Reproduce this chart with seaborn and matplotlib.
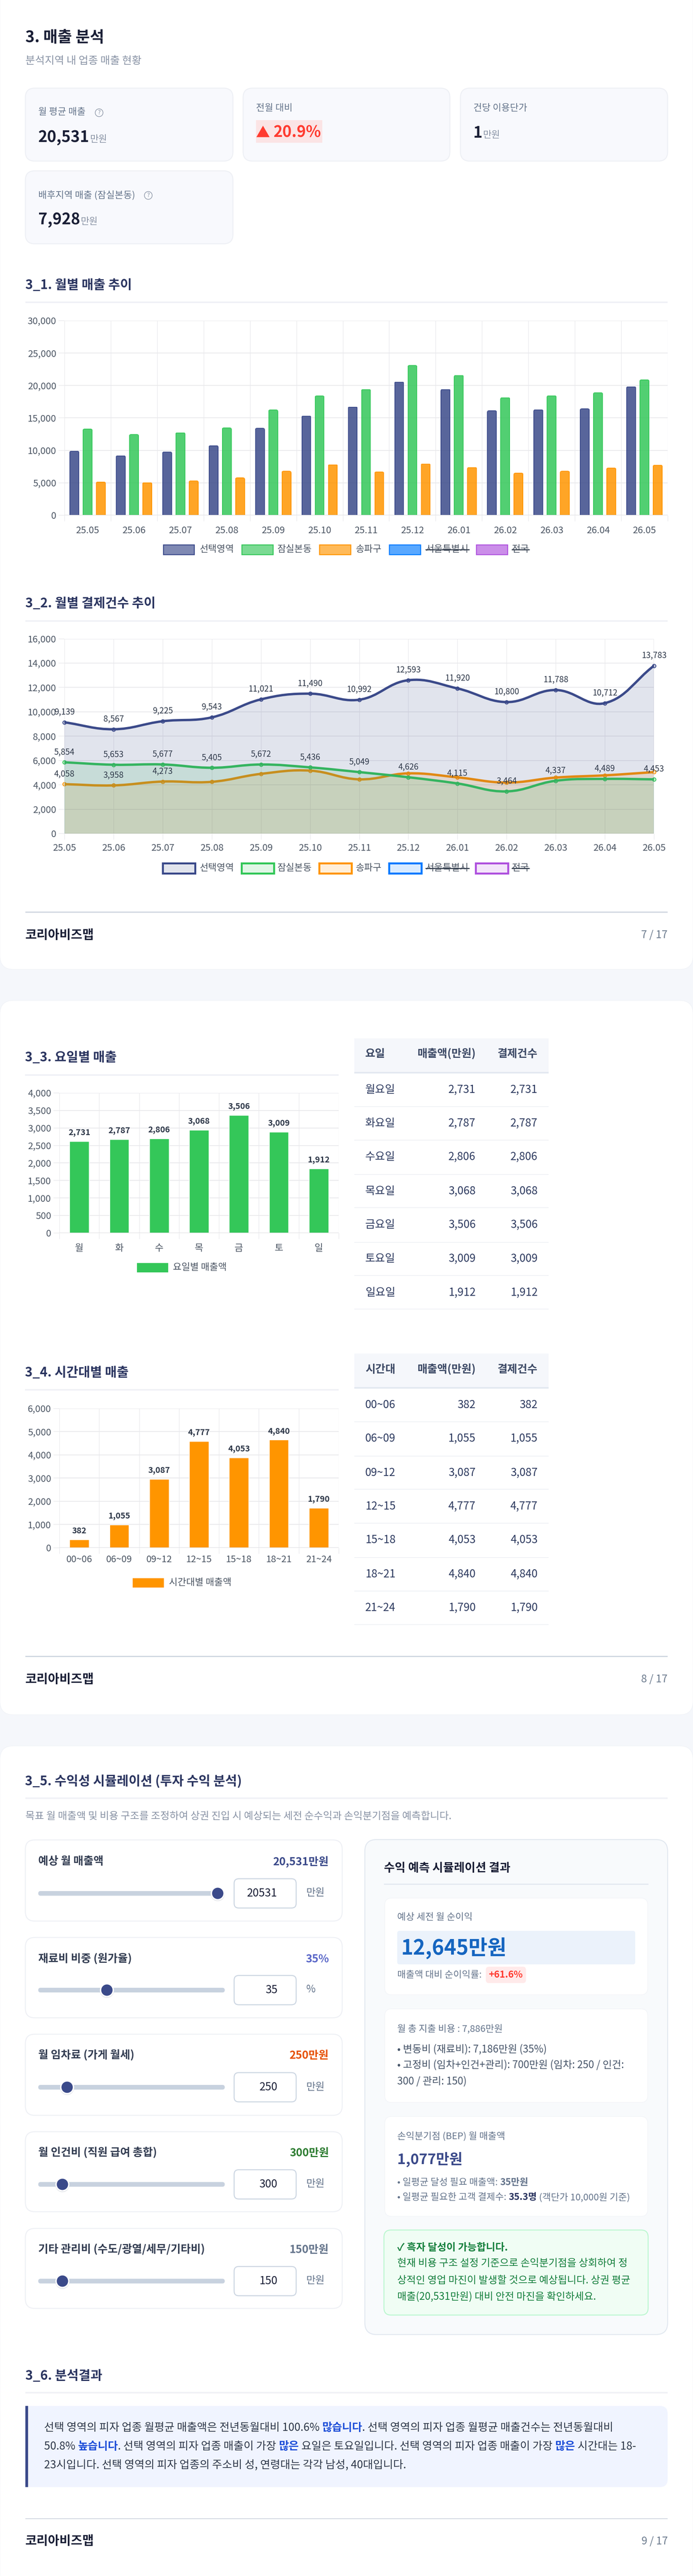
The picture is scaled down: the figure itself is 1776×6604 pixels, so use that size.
import numpy as np
import pandas as pd
import matplotlib
matplotlib.use('Agg')
import matplotlib.pyplot as plt
import seaborn as sns
from matplotlib.patches import FancyBboxPatch, Rectangle, Circle, PathPatch
from matplotlib.path import Path

W, H = 1776, 6604

months = ['25.05', '25.06', '25.07', '25.08', '25.09', '25.10', '25.11', '25.12', '26.01', '26.02', '26.03', '26.04', '26.05']
series_names = ['선택영역', '잠실본동', '송파구']

# 3_1 월별 매출
sales_selected = [9854, 9154, 9737, 10700, 13382, 15277, 16676, 20525, 19388, 16093, 16239, 16385, 19796]
sales_jamsil = [13265, 12420, 12711, 13440, 16210, 18367, 19359, 23061, 21545, 18105, 18397, 18863, 20845]
sales_songpa = [5102, 5015, 5277, 5743, 6764, 7784, 6647, 7901, 7347, 6472, 6764, 7259, 7697]

# 3_2 월별 결제건수
pay_selected = [9139, 8567, 9225, 9543, 11021, 11490, 10992, 12593, 11920, 10800, 11788, 10712, 13783]
pay_jamsil = [5854, 5653, 5677, 5405, 5672, 5436, 5049, 4626, 4115, 3464, 4337, 4489, 4453]
pay_songpa = [4058, 3958, 4273, 4250, 4904, 5170, 4455, 4945, 4618, 4189, 4598, 4782, 5047]
songpa_labeled = 3

# 3_3 요일별 (막대 높이와 라벨 값이 그림에서 서로 다름)
weekdays = ['월', '화', '수', '목', '금', '토', '일']
weekday_rows = ['월요일', '화요일', '수요일', '목요일', '금요일', '토요일', '일요일']
day_labels = [2731, 2787, 2806, 3068, 3506, 3009, 1912]
day_bars = [2623, 2674, 2697, 2947, 3363, 2885, 1838]

# 3_4 시간대별
hours = ['00~06', '06~09', '09~12', '12~15', '15~18', '18~21', '21~24']
hour_labels = [382, 1055, 3087, 4777, 4053, 4840, 1790]
hour_bars = [353, 995, 2963, 4588, 3882, 4642, 1711]

NAVY = '#3b4a8a'
GREEN = '#34c759'
ORANGE = '#ff9500'
BLUE = '#007aff'
PURPLE = '#af52de'
DARK = '#1a1f36'
TITLE = '#2b3560'
GREY = '#64748b'
TICK = '#4b5563'
GRID = '#e9e9ec'

sns.set_theme(style='white')
plt.rcParams['font.family'] = ['Noto Sans CJK KR', 'DejaVu Sans']
plt.rcParams['axes.unicode_minus'] = False

fig = plt.figure(figsize=(W / 100, H / 100), dpi=100, facecolor='#f5f7fb')
bg = fig.add_axes([0, 0, 1, 1], zorder=0)
bg.set_xlim(0, W)
bg.set_ylim(H, 0)
bg.axis('off')


def pt(px):
    return px * 0.72


def txt(x, y, s, size, color=DARK, weight='normal', ha='left', ax=bg, **kw):
    return ax.text(x, y, s, fontsize=pt(size), color=color, fontweight=weight, ha=ha, va='center', **kw)


def box(x0, y0, x1, y1, fc='white', ec='none', lw=0, r=0, z=1):
    p = FancyBboxPatch((x0, y0), x1 - x0, y1 - y0, boxstyle='round,pad=0,rounding_size=%s' % r,
                       fc=fc, ec=ec, lw=lw * 0.72, zorder=z)
    bg.add_patch(p)
    return p


def rule(y, x0=65, x1=1711, color='#f0f1f6', h=4):
    bg.add_patch(Rectangle((x0, y - h / 2), x1 - x0, h, fc=color, ec='none', zorder=2))


renderer = fig.canvas.get_renderer()


def text_width(s, size, weight):
    a = bg.text(0, 0, s + '.', fontsize=pt(size), fontweight=weight)
    b = bg.text(0, 0, '.', fontsize=pt(size), fontweight=weight)
    w = a.get_window_extent(renderer).width - b.get_window_extent(renderer).width
    a.remove()
    b.remove()
    return w


def runs(x, base, parts):
    # parts: (문자열, 크기, 색, 굵기)
    for s, size, color, weight in parts:
        bg.text(x, base, s, fontsize=pt(size), color=color, fontweight=weight, ha='left', va='baseline', zorder=5)
        x += text_width(s, size, weight)
    return x


def chart_axes(x0, y0, x1, y1):
    ax = fig.add_axes([x0 / W, 1 - y1 / H, (x1 - x0) / W, (y1 - y0) / H], zorder=3)
    ax.patch.set_alpha(0)
    for s in ax.spines.values():
        s.set_visible(False)
    return ax


def style_axis(ax, yticks, ylim, size=24, xsize=24, xpad=10):
    ax.set_ylim(*ylim)
    ax.set_yticks(yticks)
    ax.set_yticklabels(['{:,}'.format(v) for v in yticks], fontsize=pt(size), color=TICK)
    ax.set_xlabel('')
    ax.set_ylabel('')
    ax.set_axisbelow(True)
    ax.grid(True, axis='y', color=GRID, lw=1.5)
    ax.tick_params(axis='y', length=11, width=1.1, color=GRID, pad=4, left=True)
    ax.tick_params(axis='x', labelsize=pt(xsize), labelcolor=TICK, pad=xpad)
    ax.axhline(0, color='#d9d9dc', lw=2, zorder=1.5)


def category_grid(ax, n):
    ax.set_xlim(-0.5, n - 0.5)
    ax.set_xticks(np.arange(n + 1) - 0.5, minor=True)
    ax.tick_params(axis='x', which='major', length=0)
    ax.tick_params(axis='x', which='minor', length=11, width=1, color=GRID, bottom=True)
    ax.grid(True, axis='x', which='minor', color=GRID, lw=1)
    ax.grid(False, axis='x', which='major')


def round_bar_tops(ax, r=6):
    # 막대 윗모서리만 둥글게 (아래쪽은 클립 영역을 기준선 밑으로 내림)
    fig.canvas.draw()
    to_px = ax.transData + bg.transData.inverted()
    for bar in ax.patches:
        (x0, y1), (x1, y0) = to_px.transform([(bar.get_x(), 0), (bar.get_x() + bar.get_width(), bar.get_height())])
        clip = FancyBboxPatch((x0 - 1.5, y0 - 1.5), x1 - x0 + 3, y1 - y0 + 20,
                              boxstyle='round,pad=0,rounding_size=%s' % r, transform=bg.transData)
        bar.set_clip_path(clip)


def legend_row(y, h, entries, fill_alpha, lw):
    for x0, x1, tx, label, color, hidden in entries:
        fc = matplotlib.colors.to_rgba(color, fill_alpha)
        bg.add_patch(Rectangle((x0, y - h / 2), x1 - x0, h, fc=fc, ec=color, lw=lw * 0.72, zorder=2))
        t = txt(tx, y - 1, label, 24, color=TICK)
        if hidden:
            w = text_width(label, 24, 'normal')
            bg.plot([tx, tx + w], [y, y], color='#374151', lw=2, zorder=6)


def footer(y_rule, y_text, page):
    rule(y_rule, color='#cfd6e0', h=2.5)
    txt(65, y_text, '코리아비즈맵', 32, weight='bold')
    txt(1711, y_text, page, 27, color='#6b7a8d', ha='right')


def help_icon(x, y):
    bg.add_patch(Circle((x, y), 10, fc='none', ec='#8a94a6', lw=1.1, zorder=4))
    txt(x, y, '?', 15, color='#8a94a6', ha='center', zorder=5)


# 페이지 배경
for y0, y1 in [(-40, 2485), (2565, 4396), (4476, 6644)]:
    box(0, y0, W, y1, fc='white', ec='#eef0f5', lw=1, r=34, z=0.5)

# ---- 7쪽
txt(65, 97, '3. 매출 분석', 40, weight='bold')
txt(65, 156, '분석지역 내 업종 매출 현황', 27, color='#8a94a6')

for x0, y0, x1, y1 in [(65, 226, 597, 413), (623, 226, 1153, 413), (1180, 226, 1711, 413), (65, 438, 597, 625)]:
    box(x0, y0, x1, y1, fc='#f8f9fd', ec='#eef0f5', lw=2.5, r=24)

txt(98, 288, '월 평균 매출', 24, color=GREY)
help_icon(254, 289)
x = runs(98, 364, [('20,531', 40, DARK, 'bold'), (' ', 8, DARK, 'normal'), ('만원', 24, '#8a94a6', 'normal')])

txt(656, 278, '전월 대비', 24, color=GREY)
box(656, 308, 826, 366, fc='#fbe4e5')
runs(656, 352, [('▲ ', 36, '#ff3b30', 'bold'), ('20.9%', 40, '#ff3b30', 'bold')])

txt(1213, 278, '건당 이용단가', 24, color=GREY)
runs(1213, 353, [('1', 40, DARK, 'bold'), (' ', 8, DARK, 'normal'), ('만원', 24, '#8a94a6', 'normal')])

txt(98, 500, '배후지역 매출 (잠실본동)', 24, color=GREY)
help_icon(380, 501)
runs(98, 575, [('7,928', 40, DARK, 'bold'), (' ', 8, DARK, 'normal'), ('만원', 24, '#8a94a6', 'normal')])

# 3_1
txt(65, 732, '3_1. 월별 매출 추이', 33, color=TITLE, weight='bold')
rule(775.5)
ax = chart_axes(165, 822, 1711, 1321)
df_sales = pd.DataFrame({'month': months * 3,
                         'value': sales_selected + sales_jamsil + sales_songpa,
                         'series': np.repeat(series_names, 13)})
sns.barplot(data=df_sales, x='month', y='value', hue='series', order=months, hue_order=series_names,
            palette=[NAVY, GREEN, ORANGE], width=0.857, gap=0.33, legend=False, ax=ax, saturation=1)
for bar in ax.patches:
    c = bar.get_facecolor()
    bar.set_facecolor((c[0], c[1], c[2], 0.85))
    bar.set_edgecolor((c[0], c[1], c[2], 1))
    bar.set_linewidth(1.4)
style_axis(ax, list(range(0, 30001, 5000)), (0, 30000), xpad=20)
category_grid(ax, 13)
round_bar_tops(ax)

legend_items = [(419, 498, 512, '선택영역', NAVY, False), (620, 700, 711, '잠실본동', GREEN, False),
                (819, 899, 912, '송파구', ORANGE, False), (998, 1078, 1091, '서울특별시', BLUE, True),
                (1221, 1301, 1312, '전국', PURPLE, True)]
legend_row(1409.5, 25, legend_items, 0.65, 2.5)

# 3_2
txt(65, 1548, '3_2. 월별 결제건수 추이', 33, color=TITLE, weight='bold')
rule(1592)
ax = chart_axes(165, 1637.5, 1676, 2137)
px_x, px_y = (1676 - 165) / 12, (2137 - 1637.5) / 16000


def curve_verts(values, tension=0.4):
    # Chart.js 와 같은 베지어 곡선 제어점
    p = np.column_stack([np.arange(len(values)) * px_x, np.array(values, dtype=float) * px_y])
    verts, codes = [p[0]], [Path.MOVETO]
    for i in range(len(p) - 1):
        prev_pt = p[i - 1] if i > 0 else p[i]
        after = p[i + 2] if i + 2 < len(p) else p[i + 1]
        d0, d1, d2 = [np.hypot(*v) for v in (p[i] - prev_pt, p[i + 1] - p[i], after - p[i + 1])]
        c1 = p[i] + tension * d1 / (d0 + d1) * (p[i + 1] - prev_pt)
        c2 = p[i + 1] - tension * d1 / (d1 + d2) * (after - p[i])
        verts += [c1, c2, p[i + 1]]
        codes += [Path.CURVE4] * 3
    verts = np.array(verts) / [px_x, px_y]
    return verts, codes


pay_series = [(pay_songpa, ORANGE, 2.0), (pay_jamsil, GREEN, 3.0), (pay_selected, NAVY, 4.0)]
for values, color, z in pay_series:
    verts, codes = curve_verts(values)
    fill_v = np.vstack([verts, [[12, 0], [0, 0], [0, 0]]])
    fill_c = codes + [Path.LINETO, Path.LINETO, Path.CLOSEPOLY]
    ax.add_patch(PathPatch(Path(fill_v, fill_c), fc=matplotlib.colors.to_rgba(color, 0.15), ec='none', zorder=z))
    ax.add_patch(PathPatch(Path(verts, codes), fc='none', ec=color, lw=4.4, capstyle='round', joinstyle='round', zorder=z))
    sns.lineplot(x=list(range(13)), y=values, ax=ax, linewidth=0, marker='o', markersize=6.5,
                 markerfacecolor=matplotlib.colors.to_rgba(color, 0.3), markeredgecolor=color,
                 markeredgewidth=1.4, estimator=None, errorbar=None, zorder=z, clip_on=False)

ax.set_xlim(0, 12)
ax.set_xticks(range(13))
ax.set_xticklabels(months)
style_axis(ax, list(range(0, 16001, 2000)), (0, 16000), xpad=8)
ax.grid(True, axis='x', color=GRID, lw=1)
ax.tick_params(axis='x', length=11, width=1, color=GRID, bottom=True)
ax.axvline(12, color=GRID, lw=1.4)
ax.axvline(0, color=GRID, lw=1.4)

for values, n in [(pay_selected, 13), (pay_jamsil, 13), (pay_songpa, songpa_labeled)]:
    for i in range(n):
        ax.annotate('{:,}'.format(values[i]), (i, values[i]), xytext=(0, 18.5), textcoords='offset points',
                    ha='center', va='center', fontsize=pt(21), color='#2d3748', fontweight='medium', zorder=8)

legend_items = [(417, 500, 512, '선택영역', NAVY, False), (619, 702, 711, '잠실본동', GREEN, False),
                (818, 901, 912, '송파구', ORANGE, False), (997, 1080, 1091, '서울특별시', BLUE, True),
                (1219, 1302, 1312, '전국', PURPLE, True)]
legend_row(2226, 26, legend_items, 0.15, 5)
footer(2338.5, 2398, '7 / 17')

# ---- 8쪽
txt(64, 2712, '3_3. 요일별 매출', 33, color=TITLE, weight='bold')
rule(2756, 64, 868)
ax = chart_axes(152, 2802, 868, 3161)
sns.barplot(x=weekdays, y=day_bars, color=GREEN, width=0.485, saturation=1, ax=ax)
style_axis(ax, list(range(0, 4001, 500)), (0, 4000), xpad=20)
category_grid(ax, 7)
for i, v in enumerate(day_bars):
    ax.annotate('{:,}'.format(day_labels[i]), (i, v), xytext=(0, 16), textcoords='offset points', ha='center',
                va='center', fontsize=pt(21), fontweight='bold', color='#2d3748')
bg.add_patch(Rectangle((351, 3238), 80, 24, fc=GREEN, ec='none'))
txt(443, 3249, '요일별 매출액', 24, color=TICK)


def table(head, rows, vals, hy0, hy1, hy, row_y, lines):
    bg.add_patch(Rectangle((908, hy0), 498, hy1 - hy0, fc='#f5f7fb', ec='none', zorder=2))
    bg.add_patch(Rectangle((908, hy1 - 3.5), 498, 3.5, fc='#e2e8f0', ec='none', zorder=2))
    txt(936, hy, head, 28, color='#3d4a66', weight='bold', zorder=3)
    txt(1219, hy, '매출액(만원)', 28, color='#3d4a66', weight='bold', ha='right', zorder=3)
    txt(1378, hy, '결제건수', 28, color='#3d4a66', weight='bold', ha='right', zorder=3)
    for i, name in enumerate(rows):
        txt(936, row_y[i], name, 28, color='#2d3a5f')
        txt(1219, row_y[i], '{:,}'.format(vals[i]), 28, color='#2d3a5f', ha='right')
        txt(1378, row_y[i], '{:,}'.format(vals[i]), 28, color='#2d3a5f', ha='right')
        bg.add_patch(Rectangle((908, lines[i] - 1), 498, 2, fc='#eff1f5', ec='none', zorder=2))


table('요일', weekday_rows, day_labels, 2662, 2752, 2702,
      [2794, 2880, 2966, 3054, 3140, 3227, 3314], [2837, 2923, 3011, 3096, 3185, 3270, 3356])

txt(64, 3520, '3_4. 시간대별 매출', 33, color=TITLE, weight='bold')
rule(3563, 64, 868)
ax = chart_axes(152, 3610.6, 868, 3968)
sns.barplot(x=hours, y=hour_bars, color=ORANGE, width=0.485, saturation=1, ax=ax)
style_axis(ax, list(range(0, 6001, 1000)), (0, 6000), xpad=14)
category_grid(ax, 7)
for i, v in enumerate(hour_bars):
    ax.annotate('{:,}'.format(hour_labels[i]), (i, v), xytext=(0, 16), textcoords='offset points', ha='center',
                va='center', fontsize=pt(21), fontweight='bold', color='#2d3748')
bg.add_patch(Rectangle((340, 4046), 80, 24, fc=ORANGE, ec='none'))
txt(433, 4057, '시간대별 매출액', 24, color=TICK)

table('시간대', hours, hour_labels, 3470, 3560, 3511,
      [3602, 3688, 3776, 3862, 3948, 4036, 4122], [3645, 3733, 3818.5, 3905, 3993, 4079, 4165])
footer(4246.5, 4306, '8 / 17')

# ---- 9쪽
txt(64, 4566, '3_5. 수익성 시뮬레이션 (투자 수익 분석)', 33, color=TITLE, weight='bold')
rule(4610, 65, 1711)
txt(65, 4656, '목표 월 매출액 및 비용 구조를 조정하여 상권 진입 시 예상되는 세전 순수익과 손익분기점을 예측합니다.', 26, color='#8a94a6')

slider_labels = ['예상 월 매출액', '재료비 비중 (원가율)', '월 임차료 (가게 월세)', '월 인건비 (직원 급여 총합)', '기타 관리비 (수도/광열/세무/기타비)']
slider_values = ['20,531만원', '35%', '250만원', '300만원', '150만원']
slider_inputs = ['20531', '35', '250', '300', '150']
slider_units = ['만원', '%', '만원', '만원', '만원']
slider_colors = [NAVY, '#5a67c8', '#e65100', '#2e7d32', '#64748b']
slider_thumbs = [558, 274, 172, 160, 160]
card_ys = [(4717, 4925), (4967, 5173), (5215, 5423), (5465, 5670), (5713, 5918)]
label_ys = [4772, 5022, 5269, 5519, 5767]
track_ys = [4854, 5102, 5351, 5600, 5848]

for i in range(5):
    box(65, card_ys[i][0], 877, card_ys[i][1], fc='white', ec='#eef0f5', lw=2.5, r=24)
    txt(98, label_ys[i], slider_labels[i], 28, color='#333d52', weight='bold')
    txt(843, label_ys[i] + 1, slider_values[i], 28, color=slider_colors[i], weight='bold', ha='right')
    ty = track_ys[i]
    box(98, ty - 6, 576, ty + 6, fc='#c8d2df', r=6, z=2)
    bg.add_patch(Circle((slider_thumbs[i], ty + 2), 18, fc='#d5d8de', ec='none', alpha=0.6, zorder=3))
    bg.add_patch(Circle((slider_thumbs[i], ty), 18, fc='white', ec='none', zorder=3))
    bg.add_patch(Circle((slider_thumbs[i], ty), 14.5, fc=NAVY, ec='none', zorder=4))
    box(600, ty - 37.5, 759, ty + 37.5, fc='white', ec='#cbd5e1', lw=2.5, r=12, z=2)
    txt(711, ty, slider_inputs[i], 28, color=DARK, weight='medium', ha='right', zorder=4)
    txt(785, ty - 1, slider_units[i], 26, color=GREY, zorder=4)

box(935, 4716, 1711, 5985, fc='#f8fafc', ec='#e2e8f0', lw=2.5, r=30)
txt(984, 4789, '수익 예측 시뮬레이션 결과', 30, weight='bold', zorder=4)
rule(4831, 984, 1662, color='#e2e8f0', h=3)

box(986, 4866, 1660, 5114, fc='white', ec='#f2f4f8', lw=1.5, r=18, z=2)
txt(1018, 4916, '예상 세전 월 순이익', 24, color=GREY, zorder=4)
box(1018, 4950, 1628, 5036, fc='#ebf2fb', r=6, z=3)
txt(1028, 4994, '12,645만원', 53, color='#1565c0', weight='bold', zorder=5)
txt(1018, 5063, '매출액 대비 순이익률:', 24, color=GREY, zorder=4)
box(1245, 5042, 1348, 5084, fc='#ffeaea', r=8, z=3)
txt(1296, 5063, '+61.6%', 24, color='#ff3b30', weight='bold', ha='center', zorder=5)

box(986, 5150, 1660, 5390, fc='white', ec='#f2f4f8', lw=1.5, r=18, z=2)
txt(1018, 5201, '월 총 지출 비용 : 7,886만원', 24, color=GREY, zorder=4)
txt(1018, 5254, '• 변동비 (재료비): 7,186만원 (35%)', 26, color='#475569', zorder=4)
txt(1018, 5294, '• 고정비 (임차+인건+관리): 700만원 (임차: 250 / 인건:', 26, color='#475569', zorder=4)
txt(1018, 5336, '300 / 관리: 150)', 26, color='#475569', zorder=4)

box(986, 5426, 1660, 5682, fc='white', ec='#f2f4f8', lw=1.5, r=18, z=2)
txt(1018, 5477, '손익분기점 (BEP) 월 매출액', 24, color=GREY, zorder=4)
txt(1018, 5536, '1,077만원', 37, color=NAVY, weight='bold', zorder=4)
runs(1018, 5602, [('• 일평균 달성 필요 매출액: ', 24, GREY, 'normal'), ('35만원', 24, GREY, 'bold')])
runs(1018, 5640, [('• 일평균 필요한 고객 결제수: ', 24, GREY, 'normal'), ('35.3명', 24, TITLE, 'bold'),
                  (' (객단가 10,000원 기준)', 24, GREY, 'normal')])

box(984, 5717, 1661, 5935, fc='#f0fdf4', ec='#bbf7d0', lw=2.5, r=18, z=2)
txt(1018, 5762, '✓ 흑자 달성이 가능합니다.', 26, color='#15803d', weight='bold', zorder=4)
green_lines = ['현재 비용 구조 설정 기준으로 손익분기점을 상회하여 정', '상적인 영업 마진이 발생할 것으로 예상됩니다. 상권 평균',
               '매출(20,531만원) 대비 안전 마진을 확인하세요.']
for y, line in zip([5803, 5846, 5888], green_lines):
    txt(1018, y, line, 26, color='#15803d', zorder=4)

# 3_6
txt(65, 6092, '3_6. 분석결과', 33, color=TITLE, weight='bold')
rule(6134)
box(65, 6168, 1711, 6376, fc='#f0f4ff', r=20)
bg.add_patch(Rectangle((65, 6168), 30, 208, fc='#f0f4ff', ec='none', zorder=1.5))
bg.add_patch(Rectangle((65, 6168), 7, 208, fc=NAVY, ec='none', zorder=2))
body, blue = '#2d3748', '#1d4ed8'
runs(113, 6232, [('선택 영역의 피자 업종 월평균 매출액은 전년동월대비 100.6% ', 28, body, 'normal'), ('많습니다', 28, blue, 'bold'),
                 ('. 선택 영역의 피자 업종 월평균 매출건수는 전년동월대비', 28, body, 'normal')])
runs(113, 6280, [('50.8% ', 28, body, 'normal'), ('높습니다', 28, blue, 'bold'),
                 ('. 선택 영역의 피자 업종 매출이 가장 ', 28, body, 'normal'), ('많은', 28, blue, 'bold'),
                 (' 요일은 토요일입니다. 선택 영역의 피자 업종 매출이 가장 ', 28, body, 'normal'), ('많은', 28, blue, 'bold'),
                 (' 시간대는 18-', 28, body, 'normal')])
runs(113, 6328, [('23시입니다. 선택 영역의 피자 업종의 주소비 성, 연령대는 각각 남성, 40대입니다.', 28, body, 'normal')])
footer(6457, 6515, '9 / 17')

fig.savefig('out.png', dpi=100, facecolor=fig.get_facecolor())
